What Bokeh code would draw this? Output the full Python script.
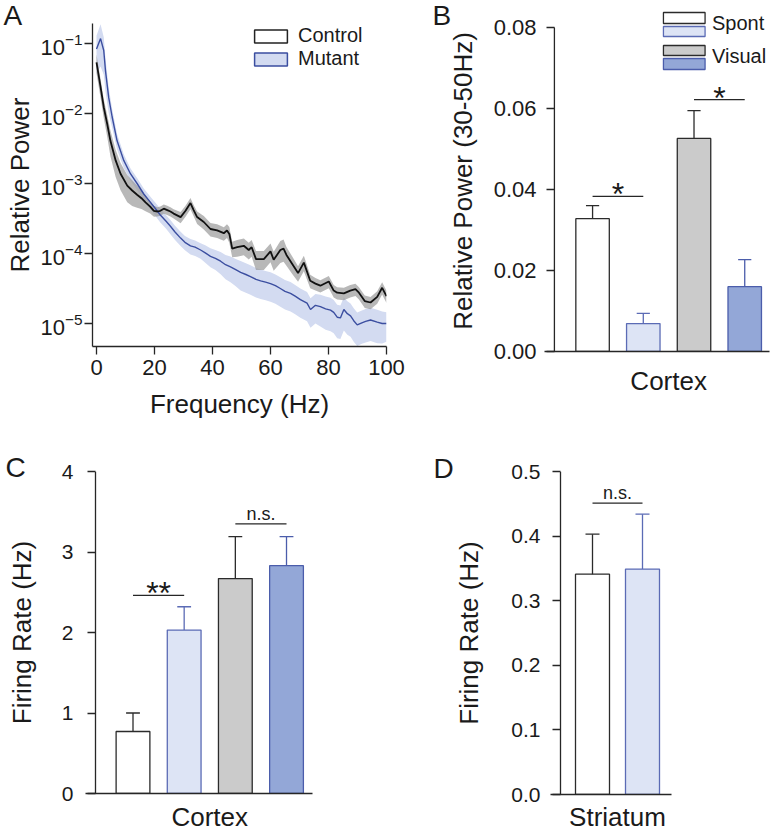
import math
from bokeh.plotting import figure
from bokeh.layouts import row, column
from bokeh.models import Range1d, FixedTicker, PrintfTickFormatter, Legend, LegendItem, Label
from bokeh.core.properties import value
from bokeh.embed import file_html
from bokeh.resources import INLINE

# ---------------- Panel A data (log10 relative power, relative SEM) ----------------
ctrl_freq = [0.0, 1.4, 2.5, 3.7, 4.8, 6.6, 8.3, 10.6, 12.3, 14.0, 15.5, 16.9, 18.5, 19.8,
             21.0, 22.0, 23.2, 24.4, 25.5, 26.6, 29.0, 30.7, 32.4, 33.5, 34.7, 37.0, 39.3,
             41.6, 43.9, 45.0, 45.8, 46.8, 48.5, 50.8, 52.5, 53.5, 55.0, 57.7, 60.0, 61.1,
             63.4, 64.5, 65.5, 67.5, 69.5, 71.5, 73.7, 75.5, 77.2, 80.1, 81.8, 83.0, 85.3,
             87.5, 89.3, 90.5, 92.5, 94.5, 96.8, 98.5, 100.0]
ctrl_log10_power = [-1.27, -1.62, -1.91, -2.15, -2.39, -2.67, -2.86, -3.03, -3.10, -3.16, -3.21,
                    -3.27, -3.33, -3.39, -3.40, -3.39, -3.36, -3.38, -3.40, -3.43, -3.48, -3.39,
                    -3.28, -3.38, -3.48, -3.55, -3.65, -3.67, -3.71, -3.67, -3.72, -3.93, -3.91,
                    -3.89, -3.95, -3.91, -4.08, -4.08, -3.97, -4.09, -3.95, -3.93, -4.02, -4.15,
                    -4.28, -4.13, -4.39, -4.43, -4.46, -4.40, -4.53, -4.56, -4.57, -4.53, -4.51,
                    -4.56, -4.68, -4.70, -4.62, -4.49, -4.61]
ctrl_rel_sem = [0.30, 0.30, 0.30, 0.35, 0.40, 0.42, 0.42, 0.42, 0.40, 0.35, 0.30, 0.25, 0.20,
                0.18, 0.15, 0.15, 0.15, 0.15, 0.15, 0.15, 0.18, 0.18, 0.18, 0.18, 0.20, 0.22,
                0.22, 0.22, 0.22, 0.22, 0.25, 0.25, 0.27, 0.27, 0.27, 0.27, 0.30, 0.30, 0.30,
                0.30, 0.35, 0.35, 0.30, 0.28, 0.25, 0.25, 0.22, 0.20, 0.20, 0.20, 0.20, 0.20,
                0.20, 0.20, 0.20, 0.20, 0.20, 0.20, 0.20, 0.20, 0.20]

mut_freq = [0.0, 1.4, 2.5, 3.1, 4.2, 5.4, 7.1, 9.4, 11.7, 14.0, 16.3, 18.6, 20.9, 22.0, 24.0,
            25.5, 27.0, 29.0, 30.5, 32.4, 34.0, 35.9, 37.5, 39.3, 41.0, 42.8, 44.5, 46.2, 48.0,
            49.7, 51.5, 53.1, 55.0, 56.6, 58.3, 60.0, 61.7, 63.4, 65.0, 66.9, 68.5, 70.3, 72.6,
            73.8, 75.5, 77.2, 79.0, 80.7, 81.8, 83.0, 84.1, 85.3, 86.5, 87.6, 88.7, 89.9, 91.5,
            92.8, 94.5, 96.8, 98.5, 100.0]
mut_log10_power = [-1.08, -0.93, -1.10, -1.39, -1.77, -2.05, -2.39, -2.67, -2.86, -3.00, -3.15,
                   -3.27, -3.39, -3.45, -3.54, -3.61, -3.69, -3.78, -3.84, -3.89, -3.91, -3.95,
                   -3.99, -4.04, -4.07, -4.11, -4.16, -4.19, -4.23, -4.27, -4.30, -4.33, -4.37,
                   -4.39, -4.41, -4.43, -4.46, -4.50, -4.54, -4.57, -4.61, -4.66, -4.71, -4.80,
                   -4.74, -4.76, -4.79, -4.81, -4.84, -4.91, -4.92, -4.80, -4.86, -4.89, -4.96,
                   -5.02, -4.99, -4.97, -4.95, -4.98, -5.00, -5.00]
mut_rel_sem = [0.55, 0.60, 0.55, 0.50, 0.40, 0.30, 0.25, 0.22, 0.20, 0.20, 0.20, 0.20, 0.22,
               0.22, 0.22, 0.23, 0.23, 0.23, 0.23, 0.25, 0.25, 0.25, 0.28, 0.30, 0.32, 0.35,
               0.38, 0.40, 0.42, 0.45, 0.45, 0.45, 0.45, 0.45, 0.45, 0.45, 0.45, 0.45, 0.45,
               0.45, 0.45, 0.45, 0.45, 0.45, 0.45, 0.48, 0.50, 0.50, 0.50, 0.50, 0.50, 0.50,
               0.50, 0.50, 0.50, 0.50, 0.50, 0.50, 0.50, 0.50, 0.48, 0.45]

freq_ticks = [0, 20, 40, 60, 80, 100]
power_ticks = [1e-5, 1e-4, 1e-3, 1e-2, 1e-1]
series_names = ["Control", "Mutant"]

# ---------------- Panel B data ----------------
b_mean = [0.0328, 0.0069, 0.0526, 0.0160]
b_sem = [0.0032, 0.0025, 0.0069, 0.0067]
b_sig_from = [1, 3]
b_sig_to = [2, 4]
b_sig_y = [0.0383, 0.0622]
b_sig_text = ["*", "*"]
b_ticks = [0.0, 0.02, 0.04, 0.06, 0.08]
b_legend_labels = ["Spont", "Visual"]
b_category = "Cortex"

# ---------------- Panel C data ----------------
c_mean = [0.77, 2.03, 2.67, 2.83]
c_sem = [0.23, 0.29, 0.52, 0.36]
c_sig_from = [1, 3]
c_sig_to = [2, 4]
c_sig_y = [2.46, 3.35]
c_sig_text = ["**", "n.s."]
c_ticks = [0, 1, 2, 3, 4]
c_category = "Cortex"

# ---------------- Panel D data ----------------
d_mean = [0.341, 0.349]
d_sem = [0.062, 0.085]
d_sig_from = [1]
d_sig_to = [2]
d_sig_y = [0.451]
d_sig_text = ["n.s."]
d_ticks = [0.0, 0.1, 0.2, 0.3, 0.4, 0.5]
d_category = "Striatum"

# ---------------- Styles ----------------
FONT = "Liberation Sans"
AX = "#262626"
TXT = "#1a1a1a"
CTRL_LINE = "#111111"
CTRL_BAND = "#9a9a9a"
MUT_LINE = "#3b4ea0"
MUT_BAND = "#d3dbf1"
BAR_FILL = ["#ffffff", "#dde4f5", "#cbcbcb", "#93a7d7"]
BAR_LINE = ["#2b2b2b", "#5b6bb5", "#2b2b2b", "#4b5dab"]
MID = 0.3465  # (ascent - descent) / 2 in em: baseline -> middle of text box


def base_style(p):
    p.grid.visible = False
    p.outline_line_color = None
    p.background_fill_color = "white"
    p.border_fill_color = "white"
    p.frame_align = False
    for ax in p.axis:
        ax.axis_line_color = AX
        ax.axis_line_width = 1.3
        ax.major_tick_line_color = AX
        ax.major_tick_line_width = 1.3
        ax.minor_tick_line_color = None
        ax.major_label_text_font = FONT
        ax.major_label_text_color = TXT
        ax.axis_label_text_font = FONT
        ax.axis_label_text_font_style = "normal"
        ax.axis_label_text_color = TXT
        ax.axis_label_text_font_size = "26px"


def panel_letter(p, side, x, y, letter):
    # placed in a side panel so that it is not clipped to the plotting frame
    p.add_layout(Label(x=x, y=y, x_units="screen", y_units="screen", text=letter,
                       text_font=FONT, text_font_size="28px", text_color=TXT,
                       text_baseline="middle", text_align="left"), side)


# Page geometry below is in window pixels (the page starts at 0, 0).
ROW1_H = 425
ROW2_H = 834 - ROW1_H
COL1_W = 425
COL2_W = 772 - COL1_W

# ======================= Panel A =======================
A_LEFT, A_TOP, A_W, A_H = 92, 23, 294, 323
A_ZERO_PX = 96
A_PX_HZ = 2.9
A_PX_DEC = 70.0
a_x0 = -(A_ZERO_PX - A_LEFT) / A_PX_HZ
a_y_top = -1 + (43 - A_TOP) / A_PX_DEC
a_y_bot = -1 - (A_TOP + A_H - 43) / A_PX_DEC

pA = figure(width=COL1_W, height=ROW1_H, output_backend="svg", toolbar_location=None, title=None,
            x_range=Range1d(a_x0, 100), y_range=Range1d(10 ** a_y_bot, 10 ** a_y_top),
            y_axis_type="log", min_border_left=A_LEFT, min_border_right=COL1_W - A_LEFT - A_W,
            min_border_top=A_TOP, min_border_bottom=ROW1_H - A_TOP - A_H)
base_style(pA)

ctrl_p = [10 ** v for v in ctrl_log10_power]
ctrl_lo = [v * (1 - s) for v, s in zip(ctrl_p, ctrl_rel_sem)]
ctrl_hi = [v * (1 + s) for v, s in zip(ctrl_p, ctrl_rel_sem)]
mut_p = [10 ** v for v in mut_log10_power]
mut_lo = [v * (1 - s) for v, s in zip(mut_p, mut_rel_sem)]
mut_hi = [v * (1 + s) for v, s in zip(mut_p, mut_rel_sem)]

pA.varea(x=mut_freq, y1=mut_lo, y2=mut_hi, fill_color=MUT_BAND, fill_alpha=1.0)
pA.varea(x=ctrl_freq, y1=ctrl_lo, y2=ctrl_hi, fill_color=CTRL_BAND, fill_alpha=0.7)
pA.line(mut_freq, mut_p, line_color=MUT_LINE, line_width=1.4)
pA.line(ctrl_freq, ctrl_p, line_color=CTRL_LINE, line_width=1.8)

# legend swatches (renderers kept hidden, only their legend glyph is shown)
leg_c = pA.quad(left=[ctrl_freq[0]], right=[ctrl_freq[1]], top=[ctrl_hi[0]], bottom=[ctrl_lo[0]],
                fill_color="white", line_color="#222222", line_width=1.5, visible=False)
leg_m = pA.quad(left=[mut_freq[0]], right=[mut_freq[1]], top=[mut_hi[0]], bottom=[mut_lo[0]],
                fill_color=MUT_BAND, line_color=MUT_LINE, line_width=1.5, visible=False)
legA = Legend(items=[LegendItem(label=series_names[0], renderers=[leg_c]),
                     LegendItem(label=series_names[1], renderers=[leg_m])],
              location=(158, A_H - 1 - 46), glyph_width=41, glyph_height=16,
              label_standoff=7, spacing=0, padding=0, margin=0,
              background_fill_alpha=0, border_line_color=None, inactive_fill_alpha=0,
              label_text_font=FONT, label_text_font_size="20px", label_text_color=TXT)
pA.add_layout(legA)

pA.xaxis.ticker = FixedTicker(ticks=freq_ticks)
pA.yaxis.ticker = FixedTicker(ticks=power_ticks)
for ax in pA.axis:
    ax.major_tick_in = 0
    ax.major_tick_out = 8
    ax.major_label_text_font_size = "22px"
pA.xaxis.major_label_standoff = 5
pA.xaxis.axis_label = "Frequency (Hz)"
pA.xaxis.axis_label_standoff = 11
pA.yaxis.major_label_standoff = 2
pA.yaxis.axis_label = "Relative Power"
pA.yaxis.axis_label_standoff = 2
panel_letter(pA, "right", 3 - (A_LEFT + A_W), (A_TOP + A_H) - (25 - MID * 28), "A")


# ======================= bar panel helper =======================
def bar_panel(width, height, fig_left, fig_top, frame_left, frame_w, frame_top, frame_h,
              slot_px, first_center, px_per_unit, means, sems, bar_w, cap_w, ticks, fmt,
              tick_size, lab_standoff, axlab_standoff, ylabel, category, cat_standoff,
              sig_from, sig_to, sig_y, sig_text):
    x0 = 1 - (first_center - frame_left) / slot_px
    x1 = x0 + frame_w / slot_px
    frame_bottom = frame_top + frame_h
    y_top = frame_h / px_per_unit

    def px_x(px):
        return x0 + (px - frame_left) / slot_px

    def py_y(py):
        return (frame_bottom - py) / px_per_unit

    p = figure(width=width, height=height, output_backend="svg", toolbar_location=None, title=None,
               x_range=Range1d(x0, x1), y_range=Range1d(0, y_top),
               min_border_left=frame_left - fig_left,
               min_border_right=width - (frame_left - fig_left) - frame_w,
               min_border_top=frame_top - fig_top,
               min_border_bottom=height - (frame_top - fig_top) - frame_h)
    base_style(p)
    n = len(means)
    xs = list(range(1, n + 1))
    fills = BAR_FILL[:n]
    lines = BAR_LINE[:n]
    p.vbar(x=xs, top=means, width=bar_w, bottom=0, fill_color=fills, line_color=lines, line_width=1.3)
    tops = [m + s for m, s in zip(means, sems)]
    p.segment(x0=xs, y0=means, x1=xs, y1=tops, line_color=lines, line_width=1.3)
    p.segment(x0=[x - cap_w / 2 for x in xs], y0=tops, x1=[x + cap_w / 2 for x in xs], y1=tops,
              line_color=lines, line_width=1.3)
    # significance bars
    p.segment(x0=sig_from, y0=sig_y, x1=sig_to, y1=sig_y, line_color=AX, line_width=1.3)
    for a, b, y, t in zip(sig_from, sig_to, sig_y, sig_text):
        if t.startswith("*"):
            p.text(x=[(a + b) / 2], y=[y], text=[t], text_font=value(FONT), text_font_size=value("32px"),
                   text_align="center", text_baseline="middle", y_offset=-2, text_color=TXT)
        else:
            p.text(x=[(a + b) / 2], y=[y], text=[t], text_font=value(FONT), text_font_size=value("18px"),
                   text_align="center", text_baseline="middle", y_offset=-10, text_color=TXT)
    # y axis line drawn 10px right of the frame edge so the base line sticks out to the left
    ax_x = px_x(frame_left + 10)
    p.segment(x0=[ax_x], y0=[0], x1=[ax_x], y1=[ticks[-1]], line_color=AX, line_width=1.3)
    p.yaxis.axis_line_color = None
    p.yaxis.ticker = FixedTicker(ticks=ticks)
    p.yaxis.formatter = PrintfTickFormatter(format=fmt)
    p.yaxis.major_tick_in = 10
    p.yaxis.major_tick_out = -2
    p.yaxis.major_label_standoff = lab_standoff
    p.yaxis.major_label_text_font_size = tick_size
    p.yaxis.axis_label = ylabel
    p.yaxis.axis_label_standoff = axlab_standoff
    p.yaxis.bounds = (0, ticks[-1])
    # category name written as the single tick label of the x axis
    mid = (1 + n) / 2
    p.xaxis.ticker = FixedTicker(ticks=[mid])
    p.xaxis.major_label_overrides = {mid: category}
    p.xaxis.major_tick_line_color = None
    p.xaxis.major_tick_out = 0
    p.xaxis.major_tick_in = 0
    p.xaxis.major_label_text_font_size = "26px"
    p.xaxis.major_label_standoff = cat_standoff
    return p, px_x, py_y


# ======================= Panel B =======================
B_LEFT, B_TOP, B_BOTTOM = 542, 10, 351
pB, bx, by = bar_panel(width=COL2_W, height=ROW1_H, fig_left=COL1_W, fig_top=0,
                       frame_left=B_LEFT, frame_w=227, frame_top=B_TOP, frame_h=B_BOTTOM - B_TOP,
                       slot_px=51.17, first_center=590.5, px_per_unit=4050.0,
                       means=b_mean, sems=b_sem, bar_w=0.66, cap_w=0.26,
                       ticks=b_ticks, fmt="%.2f", tick_size="22px", lab_standoff=8,
                       axlab_standoff=13, ylabel="Relative Power (30-50Hz)", category=b_category,
                       cat_standoff=14, sig_from=b_sig_from, sig_to=b_sig_to, sig_y=b_sig_y,
                       sig_text=b_sig_text)

# legend of panel B: two stacked swatches per condition
leg_rows = [(12, 23), (26, 36), (45, 55), (58, 69)]
pB.quad(left=[bx(662)] * 4, right=[bx(704)] * 4,
        top=[by(r[0]) for r in leg_rows], bottom=[by(r[1]) for r in leg_rows],
        fill_color=BAR_FILL, line_color=BAR_LINE, line_width=1.3)
pB.text(x=[bx(711)] * 2, y=[by(29.5 - MID * 20), by(62.5 - MID * 20)], text=b_legend_labels,
        text_font=value(FONT), text_font_size=value("20px"), text_align="left",
        text_baseline="middle", text_color=TXT)
# letter B sits in the left side panel, outside the y axis
panel_letter(pB, "left", 438 - (B_LEFT - 92 - 19), B_BOTTOM - (25 - MID * 28), "B")

# ======================= Panel C =======================
C_LEFT, C_TOP, C_H, C_W = 85, 471, 325, 227
pC, _, _ = bar_panel(width=COL1_W, height=ROW2_H, fig_left=0, fig_top=ROW1_H, frame_left=C_LEFT,
                     frame_w=C_W, frame_top=C_TOP, frame_h=C_H, slot_px=51.17, first_center=132.5,
                     px_per_unit=C_H / 4, means=c_mean, sems=c_sem, bar_w=0.66, cap_w=0.27,
                     ticks=c_ticks, fmt="%d", tick_size="21px", lab_standoff=12,
                     axlab_standoff=22, ylabel="Firing Rate (Hz)", category=c_category,
                     cat_standoff=8, sig_from=c_sig_from, sig_to=c_sig_to, sig_y=c_sig_y,
                     sig_text=c_sig_text)
panel_letter(pC, "right", 5 - (C_LEFT + C_W), (C_TOP + C_H) - (480 - MID * 28), "C")

# ======================= Panel D =======================
D_LEFT, D_TOP, D_H, D_W = 550, 471, 326, 121
pD, _, _ = bar_panel(width=COL2_W, height=ROW2_H, fig_left=COL1_W, fig_top=ROW1_H, frame_left=D_LEFT,
                     frame_w=D_W, frame_top=D_TOP, frame_h=D_H, slot_px=50.0, first_center=592,
                     px_per_unit=D_H / 0.5, means=d_mean, sems=d_sem, bar_w=0.68, cap_w=0.28,
                     ticks=d_ticks, fmt="%.1f", tick_size="21px", lab_standoff=10,
                     axlab_standoff=24, ylabel="Firing Rate (Hz)", category=d_category,
                     cat_standoff=7, sig_from=d_sig_from, sig_to=d_sig_to, sig_y=d_sig_y,
                     sig_text=d_sig_text)
panel_letter(pD, "right", 433 - (D_LEFT + D_W), (D_TOP + D_H) - (481 - MID * 28), "D")

layout = column(row(pA, pB), row(pC, pD))
open("out.html", "w").write(file_html(layout, INLINE))
